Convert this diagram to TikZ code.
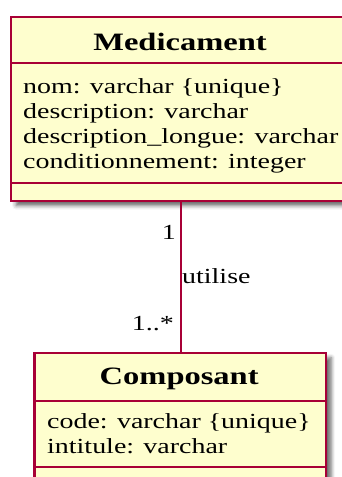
\documentclass[tikz,border=0pt]{standalone}
\usepackage{fontspec}
\setmainfont{Liberation Serif}[FakeStretch=1.3]
\usetikzlibrary{shadows.blur}
\definecolor{umlfill}{HTML}{FEFECE}
\definecolor{umlborder}{HTML}{A80036}
\begin{document}
\begin{tikzpicture}[x=1pt,y=-1pt,
  classbox/.style={draw=umlborder, fill=umlfill, line width=2.2pt, rectangle, inner sep=0pt, anchor=north west,
    blur shadow={shadow xshift=5pt, shadow yshift=-5pt, shadow blur radius=4pt, shadow opacity=60}},
  sep/.style={draw=umlborder, line width=2.2pt},
  title/.style={font=\fontsize{25}{30}\selectfont\bfseries, anchor=base, inner sep=0pt},
  attr/.style={font=\fontsize{21.5}{25}\selectfont, anchor=base west, inner sep=0pt},
  lbl/.style={font=\fontsize{21.5}{25}\selectfont, inner sep=0pt}]
\useasboundingbox (0,0) rectangle (341,477);
% Medicament
\node[classbox, minimum width=340pt, minimum height=184pt] (med) at (10,15.5) {};
\draw[sep] ([yshift=-47.2pt]med.north west) -- ([yshift=-47.2pt]med.north east);
\draw[sep] ([yshift=-167.2pt]med.north west) -- ([yshift=-167.2pt]med.north east);
\node[title] (medt) at (180,50) {Medicament};
\node[attr] (meda1) at (23,93) {nom: varchar \{unique\}};
\node[attr] (meda2) at (23,118) {description: varchar};
\node[attr] (meda3) at (23,143) {description\_longue: varchar};
\node[attr] (meda4) at (23,168) {conditionnement: integer};
% Composant
\node[classbox, minimum width=291.7pt, minimum height=140pt] (comp) at (33.3,351.7) {};
\draw[sep] ([yshift=-49pt]comp.north west) -- ([yshift=-49pt]comp.north east);
\draw[sep] ([yshift=-115.6pt]comp.north west) -- ([yshift=-115.6pt]comp.north east);
\node[title] (compt) at (179.2,384) {Composant};
\node[attr] (compa1) at (47,428) {code: varchar \{unique\}};
\node[attr] (compa2) at (47,453) {intitule: varchar};
% association
\draw[sep] (med.south) -- (comp.north -| med.south);
\node[lbl, anchor=base east] (m1) at (176,239) {1};
\node[lbl, anchor=base west] (ut) at (182,283) {utilise};
\node[lbl, anchor=base east] (m2) at (174,330) {1..*};
\end{tikzpicture}
\end{document}
